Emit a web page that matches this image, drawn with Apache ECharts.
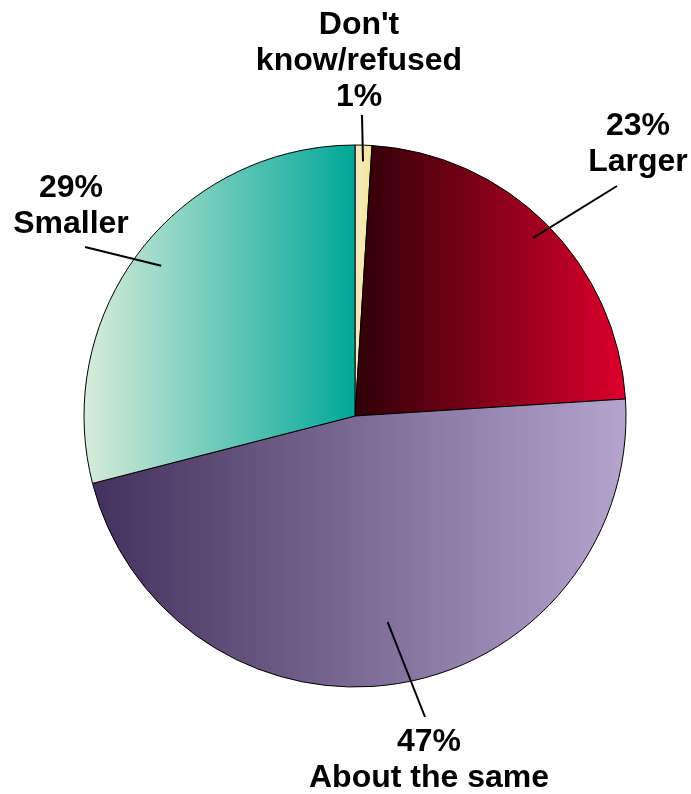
<!DOCTYPE html>
<html>
<head>
<meta charset="utf-8">
<script src="https://cdn.jsdelivr.net/npm/echarts@6/dist/echarts.min.js"></script>
<style>html,body{margin:0;padding:0;background:#fff;}#c{width:691px;height:794px;}</style>
</head>
<body>
<div id="c"></div>
<script>
// Data
var categories = ["Don't know/refused", "Larger", "About the same", "Smaller"];
var values = [1, 23, 47, 29];
var labelTexts = ["Don't\nknow/refused\n1%", "23%\nLarger", "47%\nAbout the same", "29%\nSmaller"];

// Styles / layout
var gradients = [
  ['#fbe9c6', '#f1e690'],
  ['#2e0006', '#dc002c'],
  ['#43305c', '#b5a5cd'],
  ['#d9ecda', '#00a898']
];
var CX = 355, CY = 416, R = 271;
var labelPos = [
  {x: 359, y: 61, ex: 362, ey: 115, f: 0.94},
  {x: 638, y: 144, ex: 617, ey: 186, f: 0.93},
  {x: 429, y: 760, ex: 425, ey: 717, f: 0.77},
  {x: 71, y: 206, ex: 85, ey: 247, f: 0.905}
];

var total = values.reduce(function(a, b){ return a + b; }, 0);
function midAngle(i) {
  var before = 0;
  for (var k = 0; k < i; k++) before += values[k];
  return (before + values[i] / 2) / total * 2 * Math.PI; // clockwise from top
}

var data = categories.map(function(name, i){
  return {
    name: name,
    value: values[i],
    itemStyle: {
      color: {type: 'linear', x: 0, y: 0, x2: 1, y2: 0,
        colorStops: [{offset: 0, color: gradients[i][0]}, {offset: 1, color: gradients[i][1]}]}
    },
    label: {formatter: labelTexts[i]}
  };
});

var leaderLines = values.map(function(v, i){
  var p = labelPos[i];
  var a = midAngle(i);
  return {
    type: 'line',
    z: 100,
    silent: true,
    shape: {
      x1: CX + Math.sin(a) * R * p.f,
      y1: CY - Math.cos(a) * R * p.f,
      x2: p.ex,
      y2: p.ey
    },
    style: {stroke: '#000', lineWidth: 2}
  };
});

var chart = echarts.init(document.getElementById('c'), null, {renderer: 'canvas'});
chart.setOption({
  backgroundColor: '#ffffff',
  animation: false,
  graphic: leaderLines,
  series: [{
    type: 'pie',
    center: [CX, CY],
    radius: [0, R],
    startAngle: 90,
    clockwise: true,
    data: data,
    itemStyle: {borderColor: '#000', borderWidth: 1},
    emphasis: {disabled: true},
    label: {
      show: true,
      position: 'outside',
      overflow: 'none',
      fontFamily: 'Liberation Sans, Arial, sans-serif',
      fontWeight: 'bold',
      fontSize: 32,
      lineHeight: 36,
      color: '#000',
      align: 'center'
    },
    labelLine: {show: false},
    labelLayout: function(params) {
      var p = labelPos[params.dataIndex];
      return {x: p.x, y: p.y, align: 'center', verticalAlign: 'middle'};
    }
  }]
});
</script>
</body>
</html>
